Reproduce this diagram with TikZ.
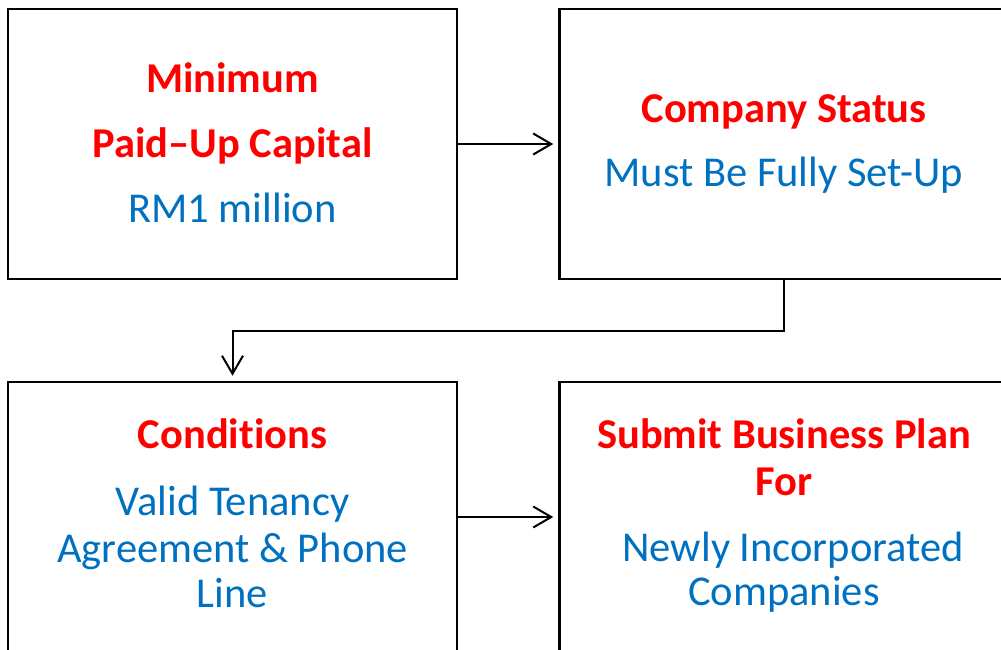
\documentclass[tikz,border=0pt]{standalone}
\usepackage{fontspec}
\setmainfont{Carlito}[Ligatures=NoCommon]
\usetikzlibrary{arrows.meta}
\definecolor{titlered}{HTML}{FF0000}
\definecolor{bodyblue}{HTML}{0070C0}

\begin{document}
\begin{tikzpicture}[x=1pt, y=-1pt,
		box/.style={draw, line width=2.6pt, minimum width=449pt,
			minimum height=270pt, inner sep=0pt},
		title/.style={anchor=base, text=titlered,
			font=\fontsize{42.5}{47}\selectfont\bfseries},
		body/.style={anchor=base, text=bodyblue,
			font=\fontsize{42.5}{47}\selectfont},
		flow/.style={line width=2pt, shorten >=5pt,
			-{Straight Barb[length=18pt, width=21pt, line width=2pt]}}]
		\useasboundingbox (0, 0) rectangle (1001, 649);

		% the four boxes
		\node (capital) [box] at (232.5, 144) {};
		\node (status)  [box] at (784, 144) {};
		\node (cond)    [box] at (232.5, 517) {};
		\node (plan)    [box] at (784, 517) {};

		% texts
		\node (capitalA) [title] at (232.5, 92)  {Minimum};
		\node (capitalB) [title] at (232.5, 157) {Paid–Up Capital};
		\node (capitalC) [body]  at (232.5, 222) {RM1 million};

		\node (statusA)  [title] at (784, 122) {Company Status};
		\node (statusB)  [body]  at (784, 186) {Must Be Fully Set-Up};

		\node (condA)    [title] at (232.5, 448) {Conditions};
		\node (condB)    [body]  at (232.5, 515) {Valid Tenancy};
		\node (condC)    [body]  at (232.5, 562) {Agreement \& Phone};
		\node (condD)    [body]  at (232.5, 607) {Line};

		\node (planA)    [title] at (784, 448) {Submit Business Plan};
		\node (planB)    [title] at (784, 495) {For};
		\node (planC)    [body]  at (793, 561) {Newly Incorporated};
		\node (planD)    [body]  at (784, 605) {Companies};

		% connectors
		\draw[flow] (capital.east) -- (status.west);
		\draw[flow] (status.south) -- ++(0, 51) -| (cond.north);
		\draw[flow] (cond.east) -- (plan.west);
	\end{tikzpicture}
\end{document}
